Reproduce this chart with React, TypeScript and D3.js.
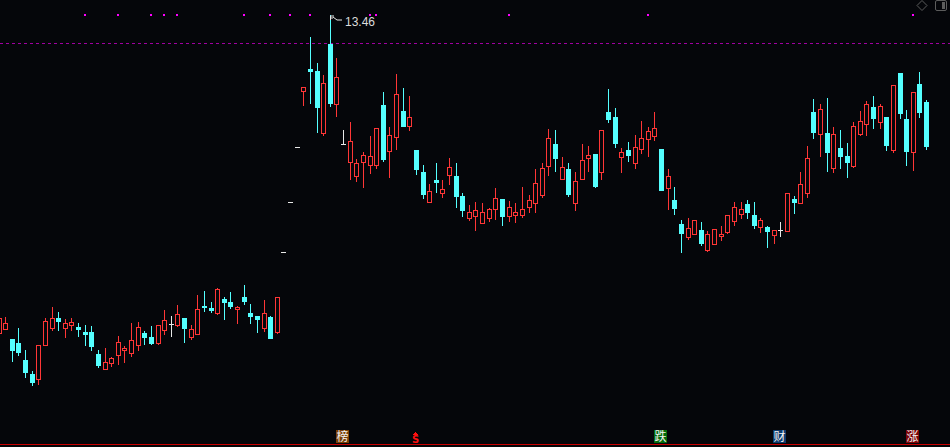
import * as d3 from "d3";

const WIDTH = 950;
const HEIGHT = 447;

const opens = [
  7.1, 7.18, 6.98, 6.9, 6.56, 6.28, 6.18, 6.86, 7.2, 7.4,
  7.2, 7.26, 7.22, 7.12, 7.12, 6.68, 6.38, 6.5, 6.66, 6.76,
  6.7, 6.86, 7.1, 7.02, 6.9, 7.16, 7.28, 7.26, 7.4, 7.02,
  7.08, 7.64, 7.6, 7.5, 7.78, 7.72, 7.58, 7.82, 7.5, 7.44,
  7.2, 7.42, 7.12, 8.72, 9.72, 10.82, 11.94, 12.38, 12.34, 11.1,
  12.88, 11.68, 10.88, 10.52, 10.24, 10.52, 10.46, 10.46, 11.66, 10.74,
  11.02, 11.54, 11.24, 10.76, 10.32, 9.72, 10.16, 9.9, 10.26, 10.24,
  9.84, 9.4, 9.44, 9.3, 9.4, 9.58, 9.78, 9.44, 9.46, 9.46,
  9.62, 9.7, 9.86, 10.44, 10.88, 10.18, 10.38, 9.7, 10.18, 10.6,
  10.68, 10.32, 11.52, 11.42, 10.62, 10.76, 10.5, 10.78, 10.98, 11.04,
  10.78, 10.0, 9.76, 9.28, 9.02, 9.08, 9.16, 8.76, 8.88, 9.04,
  9.12, 9.34, 9.48, 9.68, 9.46, 9.22, 9.22, 9.06, 9.16, 9.14,
  9.78, 9.7, 9.9, 11.52, 11.08, 11.1, 10.4, 10.8, 10.64, 10.44,
  11.08, 11.28, 11.62, 11.32, 11.42, 10.76, 12.3, 11.38, 10.72, 12.08,
  11.72,
];
const closes = [
  7.4, 7.3, 6.76, 6.72, 6.32, 6.12, 6.86, 7.34, 7.4, 7.34,
  7.3, 7.32, 7.18, 7.08, 6.84, 6.46, 6.52, 6.6, 6.92, 6.8,
  6.96, 7.22, 7.02, 6.9, 7.26, 7.36, 7.28, 7.48, 7.2, 7.18,
  7.58, 7.62, 7.56, 7.98, 7.72, 7.64, 7.62, 7.74, 7.44, 7.38,
  7.5, 7.0, 7.82, 8.72, 9.72, 10.82, 12.02, 12.34, 11.62, 12.1,
  11.7, 12.22, 10.88, 10.94, 10.5, 10.66, 10.64, 11.2, 10.58, 11.06,
  11.88, 11.24, 11.42, 10.38, 9.88, 9.94, 10.12, 9.98, 10.42, 9.84,
  9.56, 9.52, 9.56, 9.52, 9.58, 9.8, 9.44, 9.62, 9.52, 9.58,
  9.76, 10.1, 10.4, 11.0, 10.6, 10.42, 9.88, 10.14, 10.56, 10.66,
  10.04, 11.16, 11.38, 10.9, 10.72, 10.66, 10.82, 11.0, 11.14, 11.2,
  9.96, 10.24, 9.6, 9.1, 9.2, 9.36, 8.9, 9.08, 9.18, 9.08,
  9.46, 9.62, 9.58, 9.52, 9.26, 9.36, 9.14, 9.16, 9.16, 9.9,
  9.72, 10.08, 10.6, 11.12, 11.58, 10.72, 11.08, 10.64, 10.52, 11.24,
  11.34, 11.68, 11.4, 11.64, 10.86, 12.06, 11.5, 10.74, 11.92, 11.52,
  10.84,
];
const highs = [
  7.4, 7.42, 6.98, 7.2, 6.76, 6.34, 6.86, 7.4, 7.62, 7.52,
  7.38, 7.4, 7.3, 7.26, 7.24, 6.76, 6.8, 6.62, 7.04, 6.84,
  7.3, 7.32, 7.14, 7.24, 7.26, 7.56, 7.44, 7.66, 7.4, 7.26,
  7.86, 7.94, 7.72, 8.0, 7.82, 7.92, 7.64, 8.06, 7.68, 7.44,
  7.76, 7.44, 7.82, 8.72, 9.72, 10.82, 12.02, 13.02, 12.5, 12.26,
  13.46, 12.6, 11.16, 11.32, 10.58, 10.72, 11.04, 11.2, 11.92, 11.22,
  12.28, 12.0, 11.84, 10.76, 10.46, 10.08, 10.5, 10.16, 10.6, 10.5,
  9.9, 9.66, 9.72, 9.7, 9.6, 10.0, 9.78, 9.74, 9.7, 10.02,
  9.86, 10.38, 10.5, 11.18, 11.16, 10.62, 10.5, 10.32, 10.88, 10.84,
  10.68, 11.16, 11.98, 11.6, 10.8, 10.92, 11.06, 11.34, 11.22, 11.52,
  10.78, 10.38, 10.02, 9.36, 9.4, 9.36, 9.32, 9.14, 9.18, 9.24,
  9.46, 9.72, 9.72, 9.76, 9.72, 9.4, 9.24, 9.16, 9.32, 9.9,
  9.84, 10.32, 10.84, 11.78, 11.68, 11.8, 11.22, 11.16, 10.9, 11.32,
  11.54, 11.74, 11.84, 11.68, 11.42, 12.06, 12.3, 11.56, 11.92, 12.32,
  11.76,
];
const lows = [
  7.1, 7.18, 6.54, 6.66, 6.22, 6.06, 6.08, 6.86, 7.16, 7.16,
  7.02, 7.16, 7.04, 6.86, 6.76, 6.42, 6.38, 6.44, 6.48, 6.52,
  6.64, 6.76, 6.88, 6.88, 6.88, 7.08, 7.04, 7.24, 6.92, 6.98,
  7.08, 7.54, 7.52, 7.48, 7.38, 7.6, 7.3, 7.68, 7.3, 7.12,
  7.14, 7.0, 7.1, 8.72, 9.72, 10.82, 11.66, 11.7, 11.12, 11.06,
  11.64, 11.44, 10.88, 10.18, 10.14, 10.02, 10.3, 10.4, 10.54, 10.22,
  10.78, 11.24, 11.16, 10.28, 9.8, 9.72, 9.92, 9.82, 10.08, 9.62,
  9.44, 9.36, 9.16, 9.3, 9.34, 9.38, 9.26, 9.34, 9.32, 9.42,
  9.52, 9.52, 9.82, 10.26, 10.34, 10.18, 9.84, 9.56, 10.18, 10.34,
  10.02, 10.18, 11.32, 10.82, 10.32, 10.54, 10.4, 10.7, 10.64, 10.96,
  9.96, 9.58, 9.48, 8.72, 8.98, 9.08, 8.86, 8.74, 8.88, 8.96,
  9.1, 9.26, 9.4, 9.4, 9.2, 9.12, 8.82, 8.9, 9.04, 9.14,
  9.5, 9.7, 9.82, 11.0, 10.64, 10.34, 10.32, 10.4, 10.22, 10.42,
  11.06, 11.06, 11.2, 11.2, 10.76, 10.72, 11.4, 10.46, 10.36, 11.42,
  10.78,
];

// signal dots along the top edge, by candle index
const signalDays = [13, 18, 23, 25, 27, 37, 41, 44, 47, 56, 57, 77, 98, 138];
const badgeDays = [52, 100, 118, 138];
const badgeLabels = ["榜", "跌", "财", "涨"];
const badgeColors = ["#7a3f05", "#036b0b", "#0d3b6e", "#7c0508"];
const arrowDay = 63;
const peakLabel = "13.46";
const guidePrice = 12.9;
const peakPrice = 13.46;

const UP = "#ff3636";
const DOWN = "#54ffff";
const FLAT = "#e8e8e8";
const BG = "#05060a";

const x = d3.scaleLinear().domain([0, 140]).range([-1.5, 926]);
const y = d3.scaleLinear().domain([4.86, 13.46]).range([445, 15]);
const px = (v: number) => Math.round(y(v));

function Candle({ i }: { i: number }) {
  const open = opens[i];
  const close = closes[i];
  const c = Math.round(x(i));
  const top = px(Math.max(open, close));
  const bot = px(Math.min(open, close));
  const hi = px(highs[i]);
  const lo = px(lows[i]);
  const color = close > open ? UP : close < open ? DOWN : FLAT;

  return (
    <g>
      {hi < top && <rect x={c} y={hi} width={1} height={top - hi} fill={color} />}
      {lo > bot && <rect x={c} y={bot + 1} width={1} height={lo - bot} fill={color} />}
      {close > open ? (
        <rect x={c - 1.5} y={top + 0.5} width={4} height={bot - top} fill={BG} stroke={color} />
      ) : (
        <rect x={c - 2} y={top} width={5} height={bot - top + 1} fill={color} />
      )}
    </g>
  );
}

export default function App() {
  const peakX = Math.round(x(50));
  const peakY = px(peakPrice);
  const arrowX = Math.round(x(arrowDay)) - 1;

  return (
    <svg
      width={WIDTH}
      height={HEIGHT}
      shapeRendering="crispEdges"
      style={{ position: "fixed", left: 0, top: 0, display: "block", background: BG }}
    >
      {/* dashed guide */}
      <line
        x1={0}
        x2={WIDTH}
        y1={px(guidePrice) + 0.5}
        y2={px(guidePrice) + 0.5}
        stroke="#a000a0"
        strokeDasharray="3 3"
      />

      {signalDays.map((d) => (
        <rect key={d} x={Math.round(x(d)) - 1} y={14} width={2} height={2} fill="#ff00ff" />
      ))}

      {d3.range(opens.length).map((i) => (
        <Candle key={i} i={i} />
      ))}

      {/* peak marker */}
      <g shapeRendering="auto">
        <path
          d={`M${peakX + 0.5} ${peakY + 5}V${peakY + 1}H${peakX + 4}M${peakX + 1} ${peakY + 3}H${peakX + 3}M${peakX + 3} ${peakY + 2}L${peakX + 7} ${peakY + 5}L${peakX + 12} ${peakY + 5}`}
          fill="none"
          stroke="#e8e8e8"
          strokeWidth={1}
        />
        <text
          x={peakX + 15}
          y={peakY + 11}
          fill="#dcdcdc"
          fontFamily="'Liberation Sans', sans-serif"
          fontSize={12}
        >
          {peakLabel}
        </text>
      </g>

      {/* top right window icons */}
      <g fill="none" stroke="#5c5c5c" shapeRendering="auto">
        <path d="M922 0.5L927 5.5L922 10.5L917 5.5Z" />
        <rect x={935.5} y={0.5} width={11} height={10} rx={1.5} />
        <rect x={942} y={2} width={3} height={7} fill="#5c5c5c" stroke="none" />
      </g>

      {badgeDays.map((d, k) => {
        const cx = Math.round(x(d));
        return (
          <g key={d}>
            <rect x={cx - 7} y={430} width={13} height={13} fill={badgeColors[k]} />
            <text
              x={cx - 0.5}
              y={441}
              textAnchor="middle"
              fill="#f4f4f4"
              fontFamily="'Noto Sans CJK SC', sans-serif"
              fontSize={12}
              shapeRendering="auto"
            >
              {badgeLabels[k]}
            </text>
          </g>
        );
      })}

      {/* small red S with an arrow head */}
      <path d={`M${arrowX - 2} 435H${arrowX + 3}L${arrowX + 0.5} 431.5Z`} fill="#ff1010" />
      <text
        x={arrowX + 0.5}
        y={443}
        textAnchor="middle"
        fill="#ff1010"
        fontFamily="'DejaVu Sans', sans-serif"
        fontWeight="bold"
        fontSize={10}
      >
        S
      </text>

      <rect x={0} y={444} width={WIDTH} height={1} fill="#c80000" />
    </svg>
  );
}
